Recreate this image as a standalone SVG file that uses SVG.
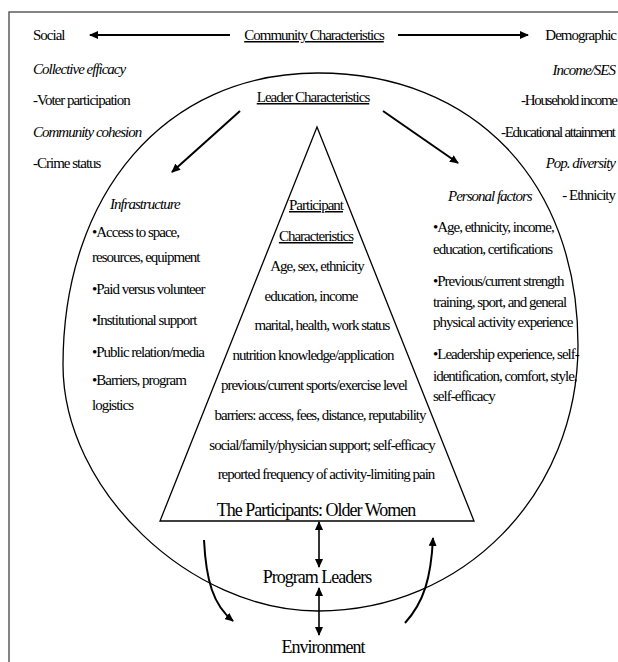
<svg xmlns="http://www.w3.org/2000/svg" width="618" height="662" viewBox="0 0 618 662">
<style>
.t{font-family:"Liberation Serif","Times New Roman",serif;font-size:15px;letter-spacing:-1px;fill:#000}
.i{font-style:italic}
.u{text-decoration:underline}
.m{text-anchor:middle}
.e{text-anchor:end}
.big{font-size:18px}
.ln{fill:none;stroke:#000;stroke-width:1.3}
.arr{fill:none;stroke:#000;stroke-width:2;marker-end:url(#ah)}
.arr2{fill:none;stroke:#000;stroke-width:1.6;marker-start:url(#ah);marker-end:url(#ah)}
</style>
<defs>
<marker id="ah" viewBox="0 0 9 8" refX="8" refY="4" markerWidth="9" markerHeight="8" markerUnits="userSpaceOnUse" orient="auto-start-reverse">
<path d="M0,0 L9,4 L0,8 z" fill="#000"/>
</marker>
</defs>
<rect width="618" height="662" fill="#fff"/>
<rect id="frame" x="9" y="12" width="660" height="700" fill="none" stroke="#444" stroke-width="1.3"/>

<g id="community-characteristics">
<text class="t m u" x="314" y="40">Community Characteristics</text>
</g>
<g id="social">
<text class="t" x="33" y="40">Social</text>
<text class="t i" x="33" y="74">Collective efficacy</text>
<text class="t" x="33" y="105">-Voter participation</text>
<text class="t i" x="33" y="137">Community cohesion</text>
<text class="t" x="33" y="168">-Crime status</text>
</g>
<g id="demographic">
<text class="t e" x="616" y="40">Demographic</text>
<text class="t i e" x="615" y="75">Income/SES</text>
<text class="t e" x="617" y="105" textLength="96" lengthAdjust="spacing">-Household income</text>
<text class="t e" x="615" y="137" textLength="114" lengthAdjust="spacing">-Educational attainment</text>
<text class="t i e" x="615" y="168">Pop. diversity</text>
<text class="t e" x="615" y="200">- Ethnicity</text>
</g>

<g id="leader-characteristics">
<path class="ln" d="M318,73 C474,73 578,181.8 578,345 C578,494 463.6,611 318,611 C190.5,611 63,490 63,365 C63,194 165,73 318,73 Z"/>
<text class="t m u" x="313" y="102">Leader Characteristics</text>
</g>

<g id="infrastructure">
<text class="t i" x="110" y="209">Infrastructure</text>
<text class="t" x="92" y="237">•Access to space,</text>
<text class="t" x="92" y="262">resources, equipment</text>
<text class="t" x="92" y="294">•Paid versus volunteer</text>
<text class="t" x="92" y="325">•Institutional support</text>
<text class="t" x="92" y="357">•Public relation/media</text>
<text class="t" x="92" y="385">•Barriers, program</text>
<text class="t" x="92" y="410">logistics</text>
</g>

<g id="personal-factors">
<text class="t i" x="448" y="201">Personal factors</text>
<text class="t" x="433" y="232">•Age, ethnicity, income,</text>
<text class="t" x="433" y="254">education, certifications</text>
<text class="t" x="433" y="286">•Previous/current strength</text>
<text class="t" x="433" y="307">training, sport, and general</text>
<text class="t" x="433" y="327">physical activity experience</text>
<text class="t" x="433" y="359">•Leadership experience, self-</text>
<text class="t" x="433" y="381">identification, comfort, style,</text>
<text class="t" x="433" y="401">self-efficacy</text>
</g>

<g id="participants">
<polygon class="ln" points="317,127 474,521 160,521" stroke-width="1.2"/>
<text class="t m u" x="316" y="210">Participant</text>
<text class="t m u" x="316" y="241">Characteristics</text>
<text class="t m" x="317" y="271">Age, sex, ethnicity</text>
<text class="t m" x="311" y="301">education, income</text>
<text class="t m" x="322" y="330">marital, health, work status</text>
<text class="t m" x="313" y="360">nutrition knowledge/application</text>
<text class="t m" x="314" y="390">previous/current sports/exercise level</text>
<text class="t m" x="320" y="420">barriers: access, fees, distance, reputability</text>
<text class="t m" x="322" y="450">social/family/physician support; self-efficacy</text>
<text class="t m" x="326" y="479">reported frequency of activity-limiting pain</text>
<text class="t m big" x="316" y="516">The Participants: Older Women</text>
</g>

<g id="program-leaders">
<text class="t m big" x="317" y="583">Program Leaders</text>
</g>
<g id="environment">
<text class="t m big" x="323" y="653">Environment</text>
</g>

<g id="connectors">
<line class="arr" x1="230" y1="35" x2="90" y2="35"/>
<line class="arr" x1="398" y1="35" x2="528" y2="35"/>
<line class="arr" x1="240" y1="111" x2="172" y2="172"/>
<line class="arr" x1="383" y1="111" x2="458" y2="163"/>
<line class="arr2" x1="319" y1="522" x2="319" y2="567"/>
<line class="arr2" x1="319" y1="588" x2="319" y2="635"/>
<path class="arr" stroke-width="1.6" d="M204,540 C206,580 213,605 233,621"/>
<path class="arr" stroke-width="1.6" d="M405,623 C424,602 431,578 433,538"/>
</g>
</svg>
